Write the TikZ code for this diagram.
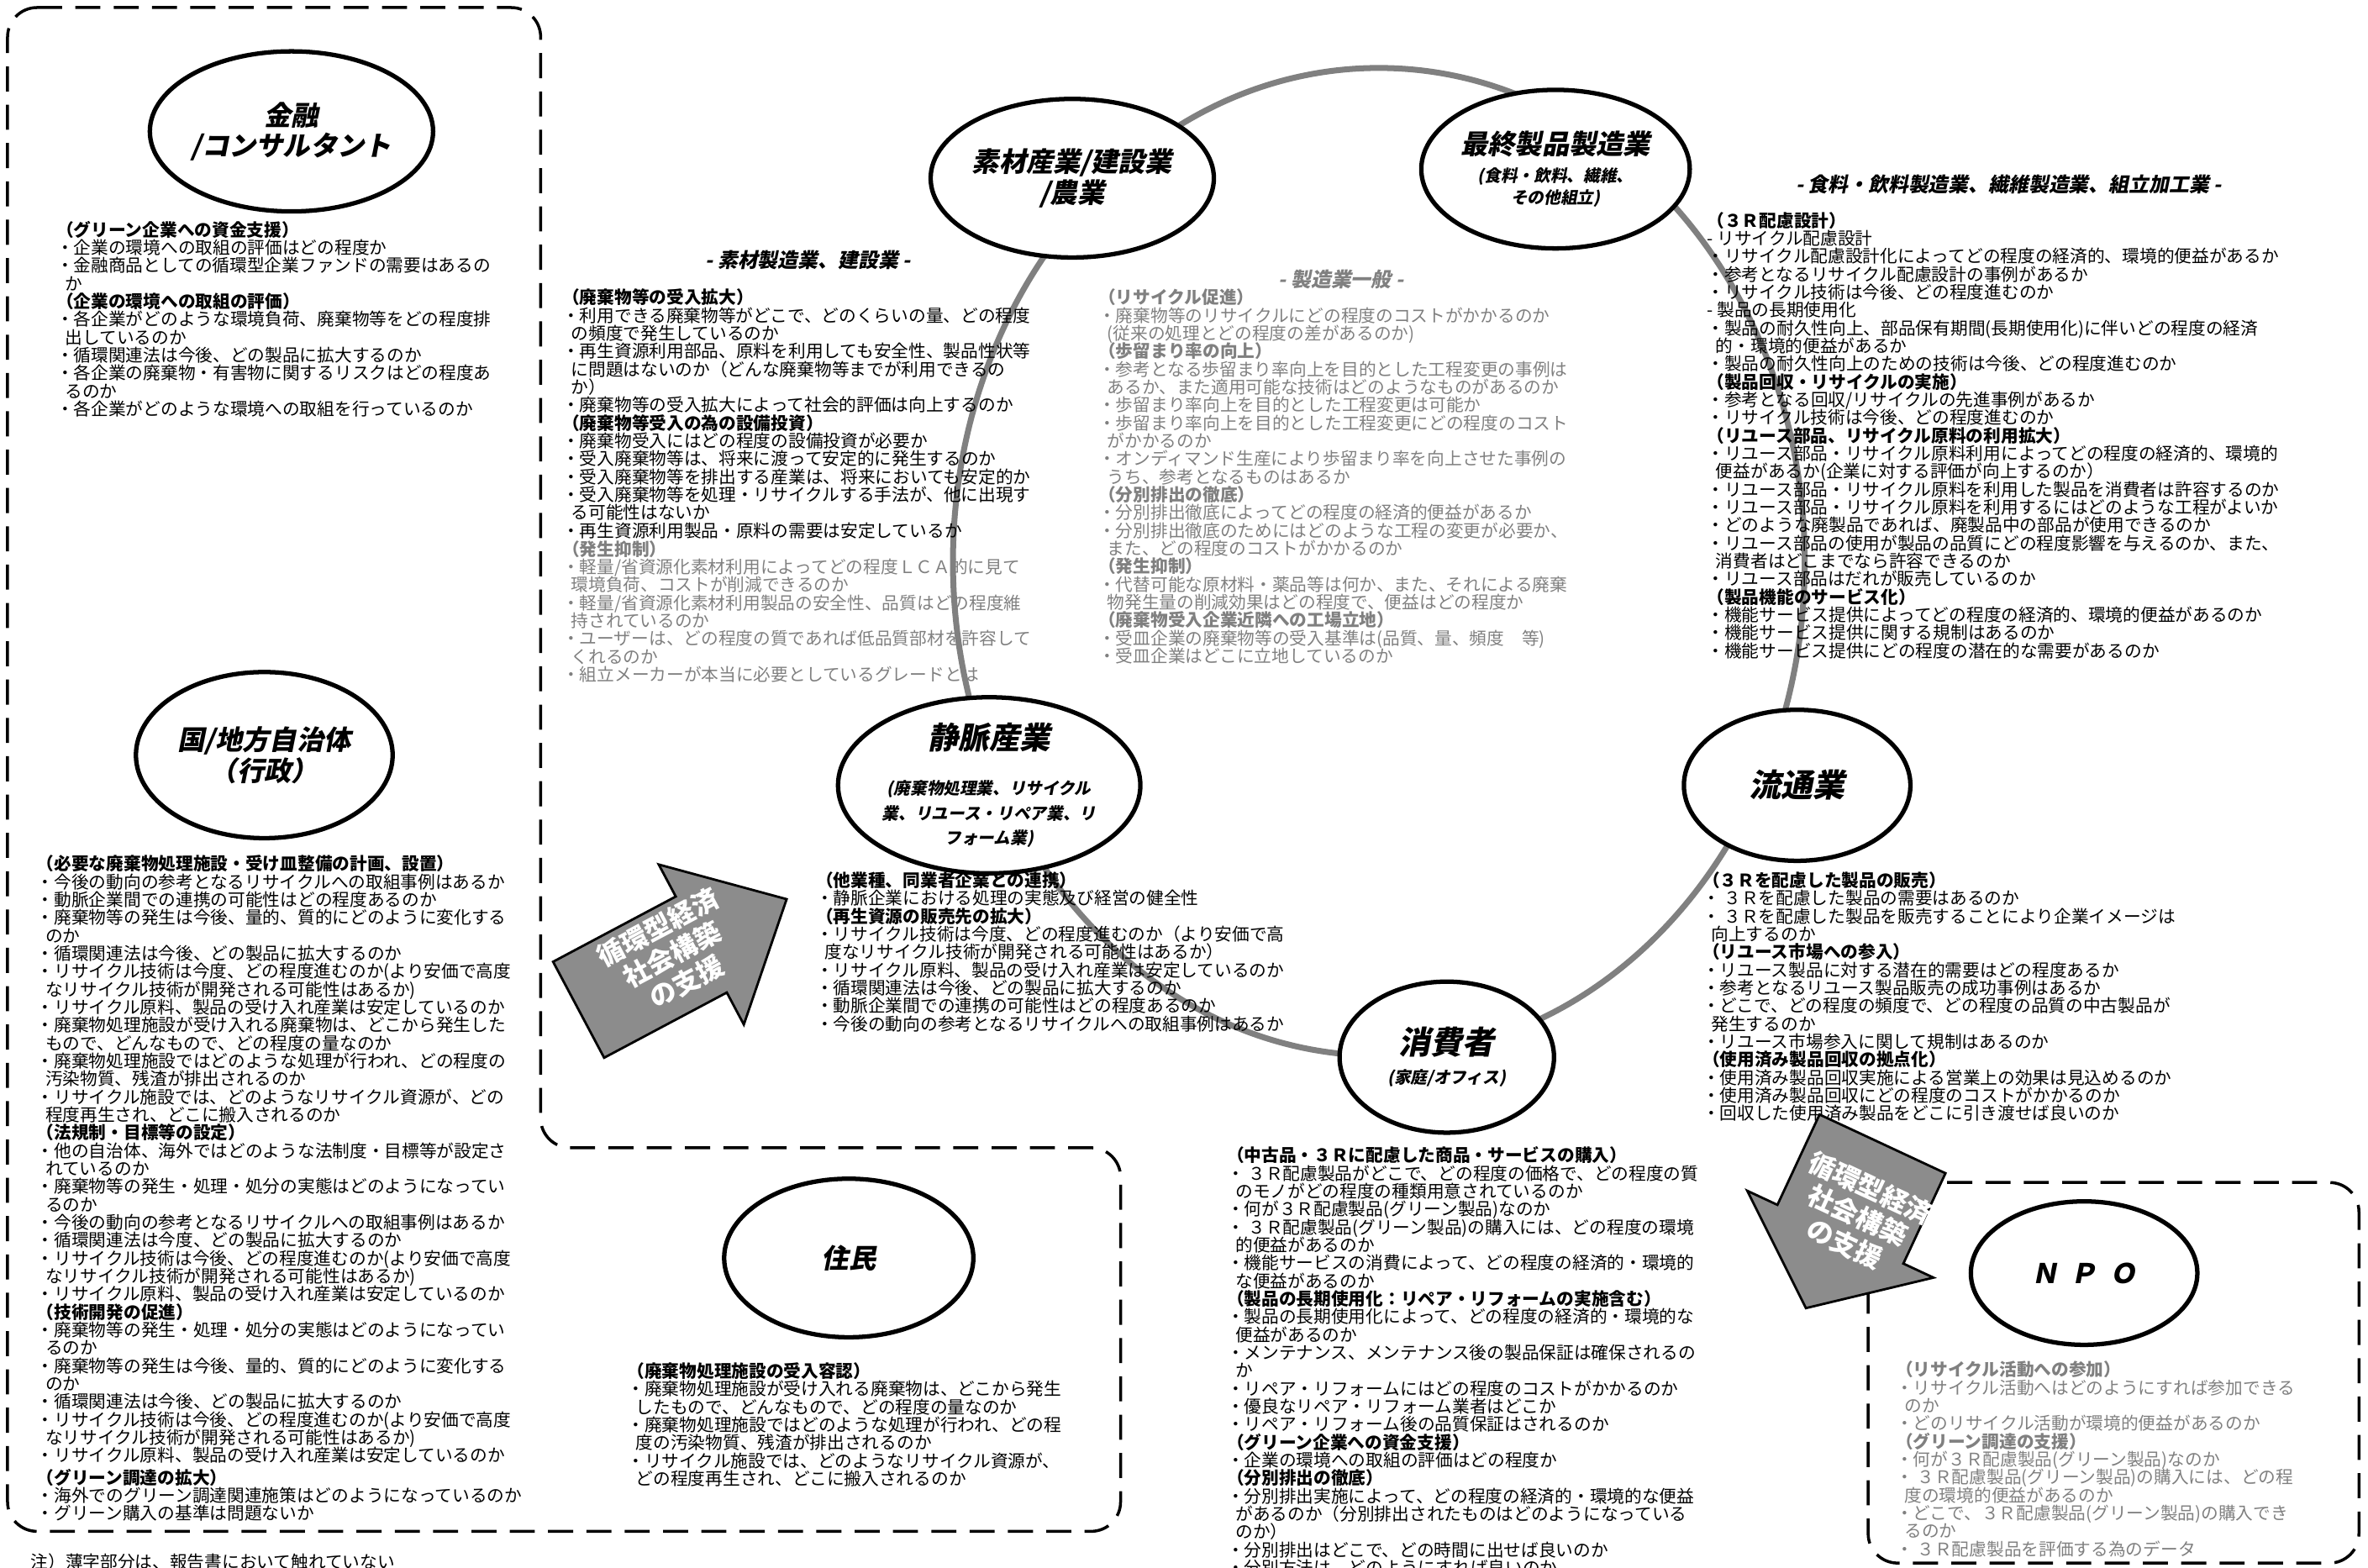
\documentclass[tikz,border=0pt]{standalone}
\usepackage{fontspec}
\setmainfont{Noto Sans CJK JP}
\newfontfamily\slantjp{Noto Sans CJK JP}[FakeSlant=0.2]
\usepackage{tikz}
\usetikzlibrary{shapes.geometric, positioning}

\definecolor{pale}{gray}{0.5}
\definecolor{arrowfill}{gray}{0.55}
\newcommand\qtext{\fontsize{5.9pt}{6.08pt}\selectfont\lineskiplimit=-5pt\lineskip=0pt}
\newcommand\subl{\fontsize{5.6pt}{6.6pt}\selectfont}
\newcommand\hd[1]{\textbf{（#1）}}
\newcommand\ind{\hspace*{0.5em}}

\begin{document}
\begin{tikzpicture}[
    x=0.018cm, y=-0.018cm,
    actor/.style={ellipse, draw=black, line width=1.5pt, fill=white, inner sep=0pt,
                  align=center, font=\slantjp\bfseries\fontsize{9.2pt}{10.4pt}\selectfont},
    bigactor/.style={actor, font=\slantjp\bfseries\fontsize{10.8pt}{11pt}\selectfont},
    dims/.style 2 args={minimum width=#1*0.018cm, minimum height=#2*0.018cm},
    questions/.style={anchor=north west, align=left, inner sep=0pt, font=\qtext},
    faint/.style={questions, text=pale},
    sector/.style={inner sep=0pt, font=\slantjp\bfseries\fontsize{6.8pt}{7pt}\selectfont},
    zone/.style={draw=black, line width=1pt, dash pattern=on 8.5pt off 4.5pt, rounded corners=10pt},
    loop/.style={draw=pale, line width=2pt},
    support/.style={draw=black, line width=0.8pt, fill=arrowfill},
    supportlabel/.style={text=white, align=center, inner sep=0pt,
                         font=\bfseries\fontsize{9pt}{10.4pt}\selectfont}
]
\useasboundingbox (0,0) rectangle (1568,1038);

\draw[zone] (5,5) -- (358,5) -- (358,760) -- (742,760) -- (742,1014) -- (5,1014) -- cycle;
\draw[zone] (1237,783) rectangle (1562,1035);

\draw[loop] (913,372) ellipse [x radius=282, y radius=327];

\node[actor, dims={165}{106}] (finance) at (193,87) {金融\\/コンサルタント};
\node[actor, dims={170}{110}] (govt) at (175,500) {国/地方自治体\\（行政）};
\node[actor, dims={165}{105}] (material) at (710,118) {素材産業/建設業\\/農業};
\node[actor, dims={162}{105}] (final) at (1030,112)
    {最終製品製造業\\[-1pt]{\subl (食料・飲料、繊維、}\\[-3pt]{\subl その他組立)}};
\node[actor, dims={175}{110}, font=\slantjp\bfseries\fontsize{10.4pt}{10.4pt}\selectfont] (venous) at (655,520)
    {静脈産業\\[5pt]{\subl (廃棄物処理業、リサイクル}\\[-2pt]{\subl 業、リユース・リペア業、リ}\\[-2pt]{\subl フォーム業)}};
\node[bigactor, dims={150}{100}] (retail) at (1190,520) {流通業};
\node[bigactor, dims={142}{100}] (consumer) at (958,700) {消費者\\[-1pt]{\subl (家庭/オフィス)}};
\node[actor, dims={165}{105}] (resident) at (562,833) {住民};
\node[actor, dims={150}{95}] (npo) at (1380,843) {Ｎ\hspace{0.45em}Ｐ\hspace{0.45em}Ｏ};

\node[sector] (materialsector) at (535,172) {- 素材製造業、建設業 -};
\node[sector, text=pale] (generalsector) at (888,185) {- 製造業一般 -};
\node[sector] (finalsector) at (1330,122) {- 食料・飲料製造業、繊維製造業、組立加工業 -};

\node[questions] (financeq) at (37,146) {
\hd{グリーン企業への資金支援}\\
・企業の環境への取組の評価はどの程度か\\
・金融商品としての循環型企業ファンドの需要はあるの\\
\ind か\\
\hd{企業の環境への取組の評価}\\
・各企業がどのような環境負荷、廃棄物等をどの程度排\\
\ind 出しているのか\\
・循環関連法は今後、どの製品に拡大するのか\\
・各企業の廃棄物・有害物に関するリスクはどの程度あ\\
\ind るのか\\
・各企業がどのような環境への取組を行っているのか};

\node[questions] (govtq) at (24,566) {
\hd{必要な廃棄物処理施設・受け皿整備の計画、設置}\\
・今後の動向の参考となるリサイクルへの取組事例はあるか\\
・動脈企業間での連携の可能性はどの程度あるのか\\
・廃棄物等の発生は今後、量的、質的にどのように変化する\\
\ind のか\\
・循環関連法は今後、どの製品に拡大するのか\\
・リサイクル技術は今度、どの程度進むのか(より安価で高度\\
\ind なリサイクル技術が開発される可能性はあるか)\\
・リサイクル原料、製品の受け入れ産業は安定しているのか\\
・廃棄物処理施設が受け入れる廃棄物は、どこから発生した\\
\ind もので、どんなもので、どの程度の量なのか\\
・廃棄物処理施設ではどのような処理が行われ、どの程度の\\
\ind 汚染物質、残渣が排出されるのか\\
・リサイクル施設では、どのようなリサイクル資源が、どの\\
\ind 程度再生され、どこに搬入されるのか\\
\hd{法規制・目標等の設定}\\
・他の自治体、海外ではどのような法制度・目標等が設定さ\\
\ind れているのか\\
・廃棄物等の発生・処理・処分の実態はどのようになってい\\
\ind るのか\\
・今後の動向の参考となるリサイクルへの取組事例はあるか\\
・循環関連法は今度、どの製品に拡大するのか\\
・リサイクル技術は今後、どの程度進むのか(より安価で高度\\
\ind なリサイクル技術が開発される可能性はあるか)\\
・リサイクル原料、製品の受け入れ産業は安定しているのか\\
\hd{技術開発の促進}\\
・廃棄物等の発生・処理・処分の実態はどのようになってい\\
\ind るのか\\
・廃棄物等の発生は今後、量的、質的にどのように変化する\\
\ind のか\\
・循環関連法は今後、どの製品に拡大するのか\\
・リサイクル技術は今後、どの程度進むのか(より安価で高度\\
\ind なリサイクル技術が開発される可能性はあるか)\\
・リサイクル原料、製品の受け入れ産業は安定しているのか\\[1.5pt]
\hd{グリーン調達の拡大}\\
・海外でのグリーン調達関連施策はどのようになっているのか\\
・グリーン購入の基準は問題ないか};

\node[questions] (materialq) at (372,191) {
\hd{廃棄物等の受入拡大}\\
・利用できる廃棄物等がどこで、どのくらいの量、どの程度\\
\ind の頻度で発生しているのか\\
・再生資源利用部品、原料を利用しても安全性、製品性状等\\
\ind に問題はないのか（どんな廃棄物等までが利用できるの\\
\ind か）\\
・廃棄物等の受入拡大によって社会的評価は向上するのか\\
\hd{廃棄物等受入の為の設備投資}\\
・廃棄物受入にはどの程度の設備投資が必要か\\
・受入廃棄物等は、将来に渡って安定的に発生するのか\\
・受入廃棄物等を排出する産業は、将来においても安定的か\\
・受入廃棄物等を処理・リサイクルする手法が、他に出現す\\
\ind る可能性はないか\\
・再生資源利用製品・原料の需要は安定しているか};
\node[faint, below=0.3pt of materialq.south west, anchor=north west] (materialqpale) {
\hd{発生抑制}\\
・軽量/省資源化素材利用によってどの程度ＬＣＡ的に見て\\
\ind 環境負荷、コストが削減できるのか\\
・軽量/省資源化素材利用製品の安全性、品質はどの程度維\\
\ind 持されているのか\\
・ユーザーは、どの程度の質であれば低品質部材を許容して\\
\ind くれるのか\\
・組立メーカーが本当に必要としているグレードとは};

\node[faint] (generalq) at (727,191) {
\hd{リサイクル促進}\\
・廃棄物等のリサイクルにどの程度のコストがかかるのか\\
\ind (従来の処理とどの程度の差があるのか)\\
\hd{歩留まり率の向上}\\
・参考となる歩留まり率向上を目的とした工程変更の事例は\\
\ind あるか、また適用可能な技術はどのようなものがあるのか\\
・歩留まり率向上を目的とした工程変更は可能か\\
・歩留まり率向上を目的とした工程変更にどの程度のコスト\\
\ind がかかるのか\\
・オンディマンド生産により歩留まり率を向上させた事例の\\
\ind うち、参考となるものはあるか\\
\hd{分別排出の徹底}\\
・分別排出徹底によってどの程度の経済的便益があるか\\
・分別排出徹底のためにはどのような工程の変更が必要か、\\
\ind また、どの程度のコストがかかるのか\\
\hd{発生抑制}\\
・代替可能な原材料・薬品等は何か、また、それによる廃棄\\
\ind 物発生量の削減効果はどの程度で、便益はどの程度か\\
\hd{廃棄物受入企業近隣への工場立地}\\
・受皿企業の廃棄物等の受入基準は(品質、量、頻度　等)\\
・受皿企業はどこに立地しているのか};

\node[questions] (finalq) at (1130,140) {
\hd{３Ｒ配慮設計}\\
- リサイクル配慮設計\\
・リサイクル配慮設計化によってどの程度の経済的、環境的便益があるか\\
・参考となるリサイクル配慮設計の事例があるか\\
・リサイクル技術は今後、どの程度進むのか\\
- 製品の長期使用化\\
・製品の耐久性向上、部品保有期間(長期使用化)に伴いどの程度の経済\\
\ind 的・環境的便益があるか\\
・製品の耐久性向上のための技術は今後、どの程度進むのか\\
\hd{製品回収・リサイクルの実施}\\
・参考となる回収/リサイクルの先進事例があるか\\
・リサイクル技術は今後、どの程度進むのか\\
\hd{リユース部品、リサイクル原料の利用拡大}\\
・リユース部品・リサイクル原料利用によってどの程度の経済的、環境的\\
\ind 便益があるか(企業に対する評価が向上するのか）\\
・リユース部品・リサイクル原料を利用した製品を消費者は許容するのか\\
・リユース部品・リサイクル原料を利用するにはどのような工程がよいか\\
・どのような廃製品であれば、廃製品中の部品が使用できるのか\\
・リユース部品の使用が製品の品質にどの程度影響を与えるのか、また、\\
\ind 消費者はどこまでなら許容できるのか\\
・リユース部品はだれが販売しているのか\\
\hd{製品機能のサービス化}\\
・機能サービス提供によってどの程度の経済的、環境的便益があるのか\\
・機能サービス提供に関する規制はあるのか\\
・機能サービス提供にどの程度の潜在的な需要があるのか};

\node[questions] (venousq) at (540,577) {
\hd{他業種、同業者企業との連携}\\
・静脈企業における処理の実態及び経営の健全性\\
\hd{再生資源の販売先の拡大}\\
・リサイクル技術は今度、どの程度進むのか（より安価で高\\
\ind 度なリサイクル技術が開発される可能性はあるか）\\
・リサイクル原料、製品の受け入れ産業は安定しているのか\\
・循環関連法は今後、どの製品に拡大するのか\\
・動脈企業間での連携の可能性はどの程度あるのか\\
・今後の動向の参考となるリサイクルへの取組事例はあるか};

\node[questions] (retailq) at (1127,577) {
\hd{３Ｒを配慮した製品の販売}\\
・ ３Ｒを配慮した製品の需要はあるのか\\
・ ３Ｒを配慮した製品を販売することにより企業イメージは\\
\ind 向上するのか\\
\hd{リユース市場への参入}\\
・リユース製品に対する潜在的需要はどの程度あるか\\
・参考となるリユース製品販売の成功事例はあるか\\
・どこで、どの程度の頻度で、どの程度の品質の中古製品が\\
\ind 発生するのか\\
・リユース市場参入に関して規制はあるのか\\
\hd{使用済み製品回収の拠点化}\\
・使用済み製品回収実施による営業上の効果は見込めるのか\\
・使用済み製品回収にどの程度のコストがかかるのか\\
・回収した使用済み製品をどこに引き渡せば良いのか};

\node[questions] (consumerq) at (812,759) {
\hd{中古品・３Ｒに配慮した商品・サービスの購入}\\
・ ３Ｒ配慮製品がどこで、どの程度の価格で、どの程度の質\\
\ind のモノがどの程度の種類用意されているのか\\
・何が３Ｒ配慮製品(グリーン製品)なのか\\
・ ３Ｒ配慮製品(グリーン製品)の購入には、どの程度の環境\\
\ind 的便益があるのか\\
・機能サービスの消費によって、どの程度の経済的・環境的\\
\ind な便益があるのか\\
\hd{製品の長期使用化：リペア・リフォームの実施含む}\\
・製品の長期使用化によって、どの程度の経済的・環境的な\\
\ind 便益があるのか\\
・メンテナンス、メンテナンス後の製品保証は確保されるの\\
\ind か\\
・リペア・リフォームにはどの程度のコストがかかるのか\\
・優良なリペア・リフォーム業者はどこか\\
・リペア・リフォーム後の品質保証はされるのか\\
\hd{グリーン企業への資金支援}\\
・企業の環境への取組の評価はどの程度か\\
\hd{分別排出の徹底}\\
・分別排出実施によって、どの程度の経済的・環境的な便益\\
\ind があるのか（分別排出されたものはどのようになっている\\
\ind のか）\\
・分別排出はどこで、どの時間に出せば良いのか\\
・分別方法は、どのようにすれば良いのか};

\node[questions] (residentq) at (415,902) {
\hd{廃棄物処理施設の受入容認}\\
・廃棄物処理施設が受け入れる廃棄物は、どこから発生\\
\ind したもので、どんなもので、どの程度の量なのか\\
・廃棄物処理施設ではどのような処理が行われ、どの程\\
\ind 度の汚染物質、残渣が排出されるのか\\
・リサイクル施設では、どのようなリサイクル資源が、\\
\ind どの程度再生され、どこに搬入されるのか};

\node[faint] (npoq) at (1255,901) {
\hd{リサイクル活動への参加}\\
・リサイクル活動へはどのようにすれば参加できる\\
\ind のか\\
・どのリサイクル活動が環境的便益があるのか\\
\hd{グリーン調達の支援}\\
・何が３Ｒ配慮製品(グリーン製品)なのか\\
・ ３Ｒ配慮製品(グリーン製品)の購入には、どの程\\
\ind 度の環境的便益があるのか\\
・どこで、３Ｒ配慮製品(グリーン製品)の購入でき\\
\ind るのか\\
・ ３Ｒ配慮製品を評価する為のデータ};

\draw[support, shift={(452,632)}, rotate=28]
    (-78,-36) -- (14,-36) -- (14,-60) -- (78,0) -- (14,60) -- (14,36) -- (-78,36) -- cycle;
\draw[support, shift={(1222,810)}, rotate=-115]
    (-58,-46) -- (8,-46) -- (8,-68) -- (62,0) -- (8,68) -- (8,46) -- (-58,46) -- cycle;
\node[supportlabel, rotate=28] (support1) at (445,632) {循環型経済\\社会構築\\の支援};
\node[supportlabel, rotate=-25] (support2) at (1230,805) {循環型経済\\社会構築\\の支援};

\node[questions, anchor=west] (note) at (20,1034) {注）薄字部分は、報告書において触れていない};
\end{tikzpicture}
\end{document}
